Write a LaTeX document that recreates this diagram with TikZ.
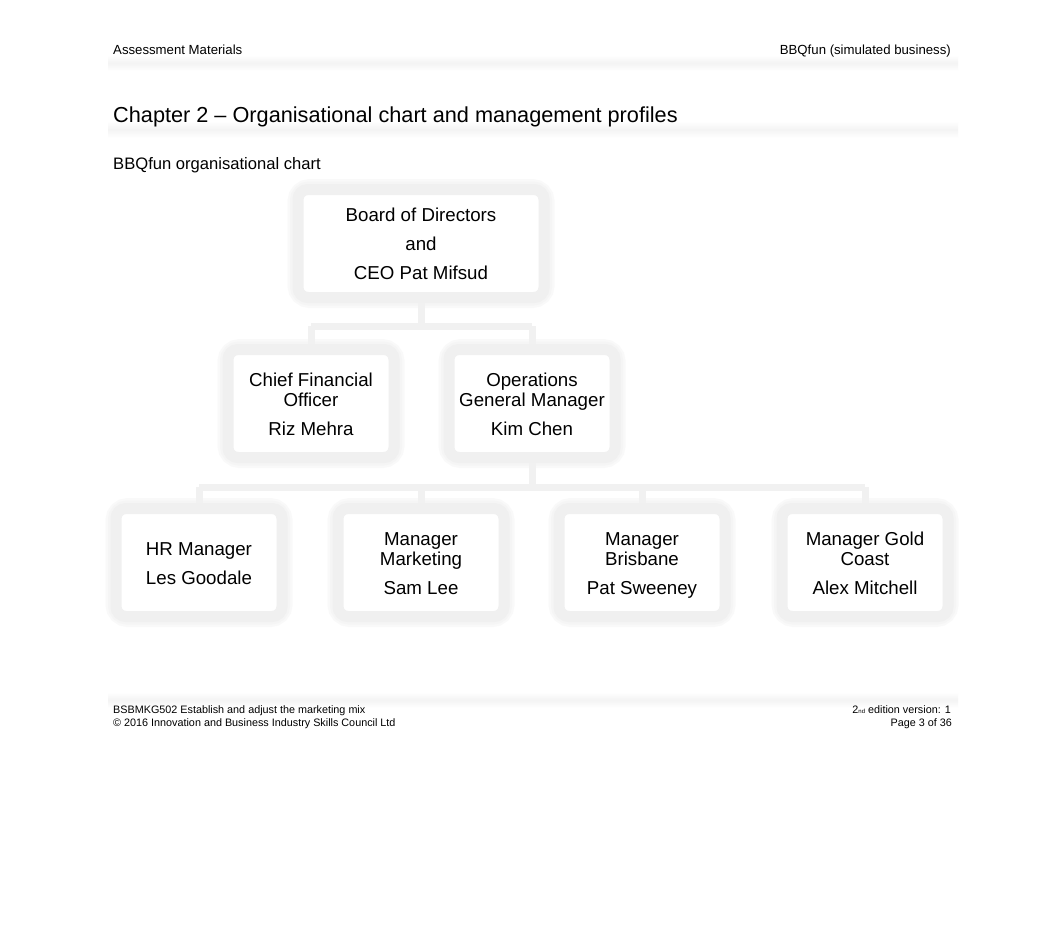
\documentclass[tikz,border=0pt]{standalone}
\usepackage{fontspec}
\setmainfont{Liberation Sans}
\newcommand{\topstr}{\rule{0pt}{20pt}}
\begin{document}
\begin{tikzpicture}[x=1pt,y=-1pt,
  box/.style={rounded corners=10pt, draw=gray!12, line width=11pt, fill=white,
    minimum width=166pt, minimum height=108pt, align=center, inner sep=0pt,
    font=\fontsize{18.7}{20}\selectfont},
  halo/.style={rounded corners=12pt, draw=gray!5, line width=21pt},
  halob/.style={rounded corners=11pt, draw=gray!8, line width=16pt},
  conn/.style={draw=gray!11, line width=7pt},
  band/.style={top color=white, bottom color=white, middle color=gray!9, draw=none}
]
\useasboundingbox (0,0) rectangle (1062,932);
\fill[white] (0,0) rectangle (1062,932);
% shadow bands
\shade[band] (108,55) rectangle (958,71);
\shade[band] (108,121) rectangle (958,138);
\shade[band] (108,692) rectangle (958,708);
% header
\node[anchor=base west, font=\fontsize{13.2}{15}\selectfont, inner sep=0pt] (hl) at (113,54) {Assessment Materials};
\node[anchor=base east, font=\fontsize{13.2}{15}\selectfont, inner sep=0pt] (hr) at (951,54) {BBQfun (simulated business)};
\node[anchor=base west, font=\fontsize{21.7}{23}\selectfont, inner sep=0pt] (title) at (113,122) {Chapter 2 – Organisational chart and management profiles};
\node[anchor=base west, font=\fontsize{16.6}{18}\selectfont, inner sep=0pt] (sub) at (113,169) {BBQfun organisational chart};
% halos
\foreach \cx/\cy/\w in {421/243.5/246, 311/403.5/166, 532/403.5/166, 199/562.5/166, 421/562.5/166, 642/562.5/166, 865/562.5/166}{
  \draw[halo] (\cx-\w/2,\cy-54) rectangle (\cx+\w/2,\cy+54);
  \draw[halob] (\cx-\w/2,\cy-54) rectangle (\cx+\w/2,\cy+54);
}
% connector junctions
\coordinate (j1) at (421,326);
\coordinate (j1l) at (311,326);
\coordinate (j1r) at (532,326);
\coordinate (j2) at (532,487);
\coordinate (j2a) at (199,487);
\coordinate (j2b) at (421,487);
\coordinate (j2c) at (642,487);
\coordinate (j2d) at (865,487);
% boxes
\node[box, minimum width=246pt] (board) at (421,243.5) {\topstr Board of Directors\\[9pt]and\\[9pt]CEO Pat Mifsud\strut};
\node[box] (cfo) at (311,403.5) {\topstr Chief Financial\\Officer\\[9pt]Riz Mehra\strut};
\node[box] (ops) at (532,403.5) {\topstr Operations\\General Manager\\[9pt]Kim Chen\strut};
\node[box] (hr) at (199,562.5) {\topstr HR Manager\\[9pt]Les Goodale\strut};
\node[box] (mkt) at (421,562.5) {\topstr Manager\\Marketing\\[9pt]Sam Lee\strut};
\node[box] (bne) at (642,562.5) {\topstr Manager\\Brisbane\\[9pt]Pat Sweeney\strut};
\node[box] (gc) at (865,562.5) {\topstr Manager Gold\\Coast\\[9pt]Alex Mitchell\strut};
\draw[conn] (board.south) -- (j1);
\draw[conn] (j1l) -- (j1r);
\draw[conn] (j1l) -- (cfo.north);
\draw[conn] (j1r) -- (ops.north);
\draw[conn] (ops.south) -- (j2);
\draw[conn] (j2a) -- (j2d);
\draw[conn] (j2a) -- (hr.north);
\draw[conn] (j2b) -- (mkt.north);
\draw[conn] (j2c) -- (bne.north);
\draw[conn] (j2d) -- (gc.north);
% footer
\node[anchor=base west, font=\fontsize{10.8}{12}\selectfont, inner sep=0pt] (f1) at (113,713) {BSBMKG502 Establish and adjust the marketing mix};
\node[anchor=base west, font=\fontsize{10.8}{12}\selectfont, inner sep=0pt] (f2) at (113,726) {© 2016 Innovation and Business Industry Skills Council Ltd};
\node[anchor=base east, font=\fontsize{10.8}{12}\selectfont, inner sep=0pt] (f3) at (951,713) {2{\fontsize{6}{7}\selectfont nd} edition version: 1};
\node[anchor=base east, font=\fontsize{10.8}{12}\selectfont, inner sep=0pt] (f4) at (952,726) {Page 3 of 36};
\end{tikzpicture}
\end{document}
